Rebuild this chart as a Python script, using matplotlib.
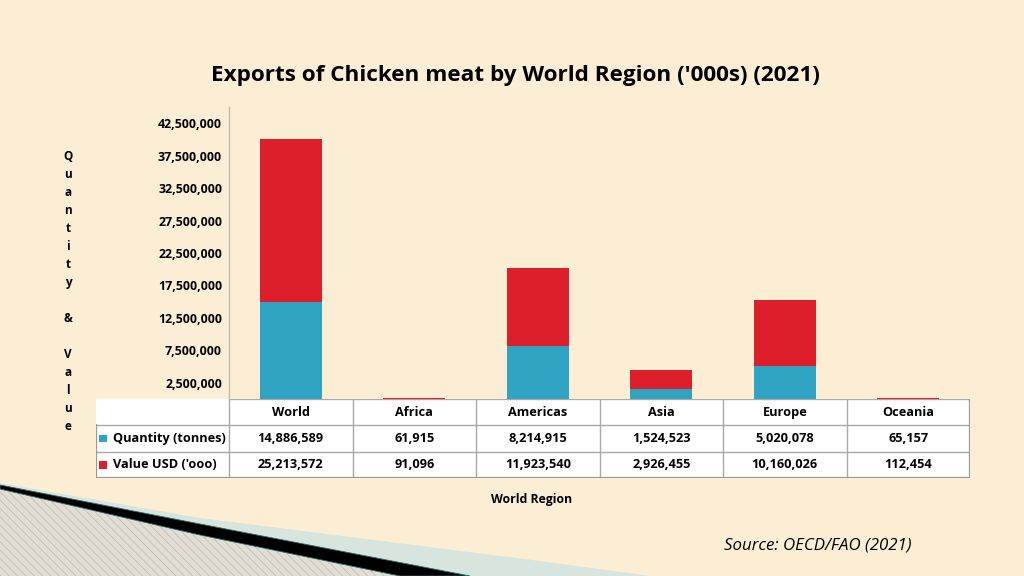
import matplotlib
matplotlib.use('Agg')
import matplotlib.pyplot as plt
from matplotlib.patches import Rectangle, Polygon
from matplotlib.ticker import FuncFormatter

plt.rcParams['font.family'] = ['Open Sans', 'DejaVu Sans']
plt.rcParams['hatch.linewidth'] = 0.4

regions = ['World', 'Africa', 'Americas', 'Asia', 'Europe', 'Oceania']
quantity = [14886589, 61915, 8214915, 1524523, 5020078, 65157]
value_usd = [25213572, 91096, 11923540, 2926455, 10160026, 112454]
series_names = ['Quantity (tonnes)', "Value USD ('ooo)"]
yticks = [2500000 + 5000000 * k for k in range(9)]

blue = '#2ea3c2'
red = '#dc1f2a'
bgcol = '#fbeed4'
grid_col = '#a9a9a9'
wt = 'bold'
tfs = 9.2

fig = plt.figure(figsize=(10.24, 5.76), dpi=100)
fig.patch.set_facecolor(bgcol)

# background decoration (bottom-left swoosh)
bg = fig.add_axes([0, 0, 1, 1], zorder=0)
bg.set_xlim(0, 1024)
bg.set_ylim(576, 0)
bg.axis('off')
bg.add_patch(Polygon([(0, 483), (200, 518), (540, 561), (650, 576), (0, 576)],
                     closed=True, facecolor='#d8e4de', edgecolor='none'))
bg.add_patch(Polygon([(0, 489), (200, 535), (400, 576), (0, 576)],
                     closed=True, facecolor='#e2ded6', edgecolor='#b4b0a8',
                     hatch='\\\\\\\\', linewidth=0))
bg.add_patch(Polygon([(0, 485), (200, 524), (470, 576), (400, 576), (200, 535), (0, 489)],
                     closed=True, facecolor='black', edgecolor='#2a6a70', linewidth=0.6))

# bar chart
ax = fig.add_axes([229 / 1024, (576 - 399) / 576, 741 / 1024, 292 / 576], zorder=2)
ax.set_facecolor('none')
x = [i + 0.5 for i in range(len(regions))]
ax.bar(x, quantity, width=0.5, color=blue, zorder=3)
ax.bar(x, value_usd, width=0.5, bottom=quantity, color=red, zorder=3)
ax.set_xlim(0, len(regions))
ax.set_ylim(0, 45000000)
ax.set_yticks(yticks)
ax.yaxis.set_major_formatter(FuncFormatter(lambda v, p: '{:,}'.format(int(v))))
ax.tick_params(axis='y', length=0, pad=5, labelsize=8.9)
for lab in ax.get_yticklabels():
    lab.set_fontweight(wt)
ax.set_xticks([])
for s in ['top', 'right', 'bottom']:
    ax.spines[s].set_visible(False)
ax.spines['left'].set_color('#c0bcb4')
ax.spines['left'].set_linewidth(1)

# data table under the bars
tax = fig.add_axes([96 / 1024, (576 - 478) / 576, 874 / 1024, 79 / 576], zorder=1)
lw = -1.077
tax.set_xlim(lw, len(regions))
tax.set_ylim(3, 0)
tax.axis('off')
tax.add_patch(Rectangle((lw, 0), len(regions) - lw, 3, facecolor='white', edgecolor='none'))
for yy in [1, 2]:
    tax.plot([lw, len(regions)], [yy, yy], color=grid_col, lw=1)
for xx in range(len(regions) + 1):
    tax.plot([xx, xx], [0, 3], color=grid_col, lw=1)
tax.plot([0, len(regions)], [0, 0], color=grid_col, lw=1)
tax.plot([lw, lw, len(regions), len(regions)], [1, 3, 3, 0], color='#9a9a9a', lw=1.6)
for i, r in enumerate(regions):
    tax.text(i + 0.5, 0.5, r, ha='center', va='center', fontsize=tfs, fontweight=wt)
    tax.text(i + 0.5, 1.5, '{:,}'.format(quantity[i]), ha='center', va='center',
             fontsize=tfs, fontweight=wt)
    tax.text(i + 0.5, 2.5, '{:,}'.format(value_usd[i]), ha='center', va='center',
             fontsize=tfs, fontweight=wt)
for k, (name, c) in enumerate(zip(series_names, [blue, red])):
    tax.add_patch(Rectangle((lw + 0.028, k + 1.35), 0.06, 0.3, facecolor=c, edgecolor='none'))
    tax.text(lw + 0.14, k + 1.5, name, ha='left', va='center', fontsize=tfs, fontweight=wt)

# titles and labels
fig.text(515 / 1024, 1 - 75 / 576, "Exports of Chicken meat by World Region ('000s) (2021)",
         ha='center', va='center', fontsize=16.2, fontweight='bold')
ylab = '\n'.join(list('Quantity') + [''] + ['&'] + [''] + list('Value'))
fig.text(68 / 1024, 1 - 291.5 / 576, ylab, ha='center', va='center', fontsize=8.5,
         fontweight='bold', linespacing=1.5)
fig.text(532 / 1024, 1 - 499 / 576, 'World Region', ha='center', va='center',
         fontsize=8.8, fontweight='bold')
fig.text(818 / 1024, 1 - 546 / 576, 'Source: OECD/FAO (2021)', ha='center', va='center',
         fontsize=12.2, fontstyle='italic')

fig.savefig('out.png', dpi=100, facecolor=fig.get_facecolor())
